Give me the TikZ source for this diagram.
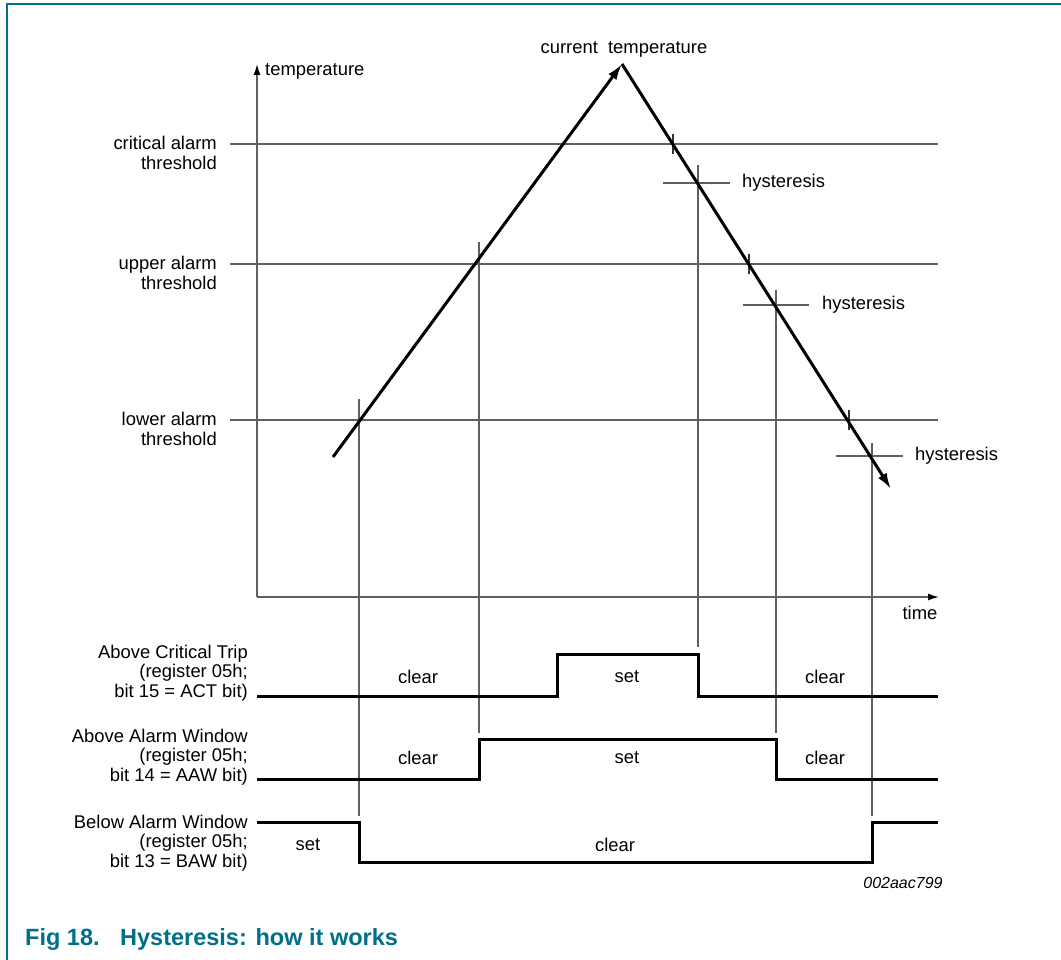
\documentclass[tikz,border=0pt]{standalone}
\usepackage{fontspec}
\setmainfont{Liberation Sans}
\usetikzlibrary{arrows.meta}
\definecolor{nxpteal}{RGB}{0,112,138}
\definecolor{guide}{RGB}{95,95,95}
\tikzset{
  guideline/.style={draw=guide, line width=1.3pt},
  tickline/.style={draw=black!80, line width=1.2pt},
  signal/.style={draw=black, line width=3pt, line join=miter},
  templine/.style={draw=black, line width=3pt, -{Latex[length=16pt,width=10pt]}},
  axisline/.style={draw=guide, line width=1.5pt, -{Latex[length=11pt,width=7pt,color=black]}},
  lbl/.style={inner sep=0pt, font=\fontsize{18.4}{19.5}\selectfont},
  rlbl/.style={lbl, align=right, anchor=east},
  figcaption/.style={inner sep=0pt, anchor=base west, text=nxpteal, font=\fontsize{23.5}{26}\selectfont\bfseries}
}
\begin{document}
\begin{tikzpicture}[x=1pt, y=-1pt]
\useasboundingbox (0,0) rectangle (1061,960);
% frame
\draw[nxpteal, line width=1.6pt] (7,960) -- (7,4) -- (1061,4);

% axes
\coordinate (O) at (257,597);
\coordinate (Ytop) at (257,64);
\coordinate (Xend) at (939,597);
\draw[axisline] (O) -- (Ytop);
\draw[axisline] (O) -- (Xend);
\node[lbl, anchor=west] (ylab) at (265,71) {temperature};
\node[lbl] (xlab) at (920,613) {time};

% thresholds
\coordinate (crA) at (230,144); \coordinate (crB) at (938,144);
\coordinate (upA) at (230,264); \coordinate (upB) at (938,264);
\coordinate (loA) at (230,420); \coordinate (loB) at (938,420);
\draw[guideline] (crA) -- (crB);
\draw[guideline] (upA) -- (upB);
\draw[guideline] (loA) -- (loB);
\node[rlbl] (crlab) at (217,153) {critical alarm\\threshold};
\node[rlbl] (uplab) at (217,273) {upper alarm\\threshold};
\node[rlbl] (lolab) at (217,429) {lower alarm\\threshold};

% vertical guides
\coordinate (g1a) at (359,399); \coordinate (g1b) at (359,816);
\coordinate (g2a) at (479,242); \coordinate (g2b) at (479,733);
\coordinate (g3a) at (698,165); \coordinate (g3b) at (698,647);
\coordinate (g4a) at (776,290); \coordinate (g4b) at (776,733);
\coordinate (g5a) at (872,443); \coordinate (g5b) at (872,816);
\draw[guideline] (g1a) -- (g1b);
\draw[guideline] (g2a) -- (g2b);
\draw[guideline] (g3a) -- (g3b);
\draw[guideline] (g4a) -- (g4b);
\draw[guideline] (g5a) -- (g5b);

% hysteresis bars
\coordinate (h1a) at (663,183); \coordinate (h1b) at (730,183);
\coordinate (h2a) at (743,305); \coordinate (h2b) at (809,305);
\coordinate (h3a) at (836,456); \coordinate (h3b) at (903,456);
\draw[guideline] (h1a) -- (h1b);
\draw[guideline] (h2a) -- (h2b);
\draw[guideline] (h3a) -- (h3b);
\node[lbl, anchor=west] (hy1) at (742,183) {hysteresis};
\node[lbl, anchor=west] (hy2) at (822,305) {hysteresis};
\node[lbl, anchor=west] (hy3) at (915,456) {hysteresis};

% ticks on threshold crossings
\coordinate (t1a) at (673,134); \coordinate (t1b) at (673,154);
\coordinate (t2a) at (749,254); \coordinate (t2b) at (749,274);
\coordinate (t3a) at (849,410); \coordinate (t3b) at (849,430);
\draw[tickline] (t1a) -- (t1b);
\draw[tickline] (t2a) -- (t2b);
\draw[tickline] (t3a) -- (t3b);

% temperature curve
\coordinate (Ts) at (333,457);
\coordinate (Tp) at (622,64);
\coordinate (Te) at (891,489);
\draw[templine] (Ts) -- (Tp);
\draw[templine] (Tp) -- (Te);
\node[lbl] (curlab) at (624,49) {current\ \ temperature};

% signals
\draw[signal] (257,696) -- (557,696) -- (557,654) -- (698,654) -- (698,696) -- (938,696);
\draw[signal] (257,779) -- (479,779) -- (479,739) -- (776,739) -- (776,779) -- (938,779);
\draw[signal] (257,822) -- (359,822) -- (359,862) -- (872,862) -- (872,822) -- (938,822);

\node[rlbl] (actlab) at (248,673) {Above Critical Trip\\(register 05h;\\bit 15 = ACT bit)};
\node[rlbl] (aawlab) at (248,757) {Above Alarm Window\\(register 05h;\\bit 14 = AAW bit)};
\node[rlbl] (bawlab) at (248,843) {Below Alarm Window\\(register 05h;\\bit 13 = BAW bit)};

\node[lbl] (s1) at (418,677) {clear};
\node[lbl] (s2) at (627,677) {set};
\node[lbl] (s3) at (825,677) {clear};
\node[lbl] (s4) at (418,758) {clear};
\node[lbl] (s5) at (627,758) {set};
\node[lbl] (s6) at (825,758) {clear};
\node[lbl] (s7) at (308,845) {set};
\node[lbl] (s8) at (615,845) {clear};

\node[inner sep=0pt, font=\fontsize{16}{18}\selectfont\itshape] (code) at (903,883) {002aac799};

% caption
\node[figcaption] (fig) at (25,945) {Fig 18.};
\node[figcaption] (title) at (120,945) {Hysteresis: how it works};
\end{tikzpicture}
\end{document}
